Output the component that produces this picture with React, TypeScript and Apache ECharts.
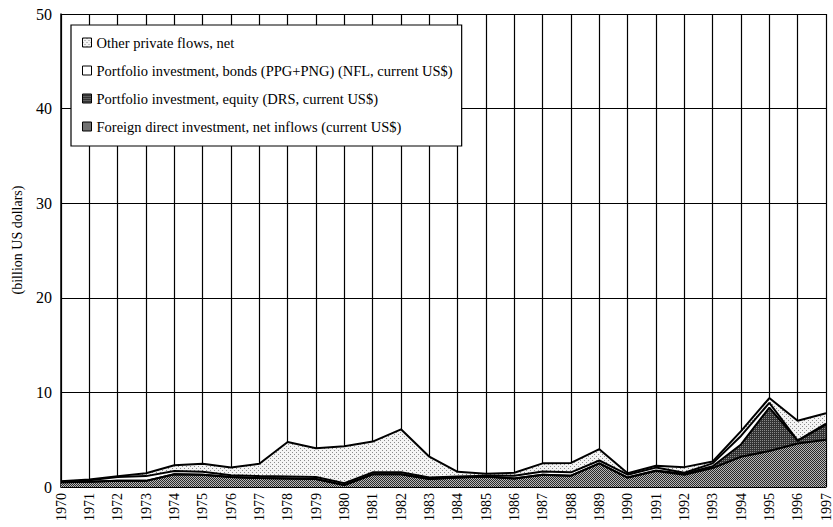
import React, { useEffect, useRef } from "react";
import * as echarts from "echarts";

const years = [
  "1970", "1971", "1972", "1973", "1974", "1975", "1976", "1977", "1978", "1979",
  "1980", "1981", "1982", "1983", "1984", "1985", "1986", "1987", "1988", "1989",
  "1990", "1991", "1992", "1993", "1994", "1995", "1996", "1997",
];

const fdi = [
  0.5, 0.55, 0.65, 0.65, 1.35, 1.3, 1.05, 0.95, 0.9, 0.85,
  0.2, 1.35, 1.35, 0.85, 1.0, 1.1, 0.9, 1.3, 1.2, 2.5,
  1.0, 1.7, 1.3, 2.0, 3.2, 3.8, 4.6, 5.0,
];
const equity = [
  0, 0, 0, 0, 0, 0, 0, 0, 0, 0,
  0, 0, 0, 0, 0, 0, 0, 0, 0, 0,
  0, 0.05, 0.1, 0.2, 1.3, 4.6, 0.3, 1.6,
];
const bonds = [
  0.05, 0.15, 0.4, 0.5, 0.35, 0.3, 0.2, 0.2, 0.2, 0.2,
  0.2, 0.2, 0.2, 0.15, 0.1, 0.1, 0.3, 0.35, 0.35, 0.3,
  0.3, 0.3, 0.1, 0.3, 0.9, 0.5, 0.0, 0.1,
];
const other = [
  0.05, 0.1, 0.1, 0.3, 0.6, 0.85, 0.8, 1.3, 3.65, 3.05,
  3.9, 3.25, 4.55, 2.2, 0.5, 0.2, 0.3, 0.85, 1.0, 1.2,
  0.15, 0.2, 0.6, 0.2, 0.5, 0.5, 2.1, 1.1,
];

const names = [
  "Other private flows, net",
  "Portfolio investment, bonds (PPG+PNG) (NFL, current US$)",
  "Portfolio investment, equity (DRS, current US$)",
  "Foreign direct investment, net inflows (current US$)",
];

const yAxisTitle = "(billion US dollars)";
const yMin = 0;
const yMax = 50;
const yStep = 10;

function tile(bg: string, fg: string, cells: number[][]): string {
  const c = document.createElement("canvas");
  c.width = 4;
  c.height = 4;
  const ctx = c.getContext("2d");
  if (!ctx) return bg;
  ctx.fillStyle = bg;
  ctx.fillRect(0, 0, 4, 4);
  ctx.fillStyle = fg;
  cells.forEach(([x, y]) => ctx.fillRect(x, y, 1, 1));
  return c.toDataURL();
}

export default function App() {
  const ref = useRef<HTMLDivElement>(null);
  useEffect(() => {
    if (!ref.current) return;
    const chart = echarts.init(ref.current, undefined, { renderer: "svg" });

    const checker = [
      [0, 0], [2, 0], [1, 1], [3, 1], [0, 2], [2, 2], [1, 3], [3, 3],
    ];
    const fdiPat = { image: tile("#b8b8b8", "#2a2a2a", checker), repeat: "repeat" };
    const eqPat = {
      image: tile("#333333", "#8a8a8a", [[0, 0], [2, 2], [2, 0], [0, 2]]),
      repeat: "repeat",
    };
    const otherPat = {
      image: tile("#f4f4f4", "#8a8a8a", [[0, 0], [2, 2]]),
      repeat: "repeat",
    };
    const fills: any[] = [otherPat, "#ffffff", eqPat, fdiPat];
    const datas = [other, bonds, equity, fdi];

    const font = "'Liberation Serif', 'DejaVu Serif', serif";

    // stacking order: FDI (bottom), equity, bonds, other (top)
    const order = [3, 2, 1, 0];
    const series = order.map((i) => ({
      name: names[i],
      type: "line",
      stack: "total",
      data: datas[i],
      symbol: "none",
      smooth: false,
      lineStyle: { color: "#000", width: 2 },
      itemStyle: { color: fills[i] },
      areaStyle: { color: fills[i], opacity: 1 },
      emphasis: { disabled: true },
    }));

    chart.setOption({
      animation: false,
      backgroundColor: "#fff",
      grid: { left: 61, right: 4, top: 14, bottom: 40, show: false },
      graphic: [
        {
          type: "text",
          x: 17,
          y: 240,
          rotation: Math.PI / 2,
          style: {
            text: yAxisTitle,
            fontFamily: font,
            fontSize: 14,
            fill: "#000",
            align: "center",
            verticalAlign: "middle",
          },
        },
      ],
      legend: {
        orient: "vertical",
        left: 71,
        top: 25,
        padding: [10, 9, 12, 11],
        itemGap: 13,
        itemWidth: 9,
        itemHeight: 9,
        icon: "rect",
        backgroundColor: "#fff",
        borderColor: "#000",
        borderWidth: 1.2,
        textStyle: { fontFamily: font, fontSize: 14.5, color: "#000" },
        data: names.map((n, i) => ({
          name: n,
          itemStyle: { color: fills[i], borderColor: "#000", borderWidth: 1 },
        })),
        selectedMode: false,
        z: 10,
      },
      xAxis: {
        type: "category",
        data: years,
        boundaryGap: false,
        axisLine: { show: true, lineStyle: { color: "#000", width: 1.5 } },
        axisTick: { show: false },
        axisLabel: {
          interval: 0,
          rotate: 90,
          margin: 6,
          fontFamily: font,
          fontSize: 14,
          color: "#000",
        },
        splitLine: { show: true, interval: 0, lineStyle: { color: "#000", width: 1.2 } },
      },
      yAxis: {
        type: "value",
        min: yMin,
        max: yMax,
        interval: yStep,
        axisLine: { show: true, lineStyle: { color: "#000", width: 1.5 } },
        axisTick: { show: false },
        axisLabel: { margin: 9, fontFamily: font, fontSize: 16, color: "#000" },
        splitLine: { show: true, lineStyle: { color: "#000", width: 1.2 } },
      },
      series,
    });

    return () => chart.dispose();
  }, []);

  return (
    <div
      ref={ref}
      style={{ position: "fixed", left: 0, top: 0, width: 833, height: 527 }}
    />
  );
}
